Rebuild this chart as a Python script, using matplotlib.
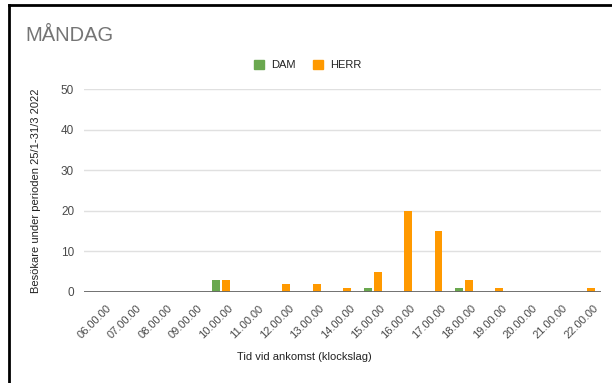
import numpy as np
import matplotlib.pyplot as plt
from matplotlib.lines import Line2D
from matplotlib.patches import Patch
from matplotlib.transforms import ScaledTranslation

plt.rcParams['font.family'] = ['Liberation Sans', 'DejaVu Sans']

# besökare per ankomsttid, måndagar
tider = ['06.00.00', '07.00.00', '08.00.00', '09.00.00', '10.00.00', '11.00.00',
         '12.00.00', '13.00.00', '14.00.00', '15.00.00', '16.00.00', '17.00.00',
         '18.00.00', '19.00.00', '20.00.00', '21.00.00', '22.00.00']
dam = [0, 0, 0, 0, 3, 0, 0, 0, 0, 1, 0, 0, 1, 0, 0, 0, 0]
herr = [0, 0, 0, 0, 3, 0, 2, 2, 1, 5, 20, 15, 3, 1, 0, 0, 1]

GREEN = '#6aa84f'
ORANGE = '#ff9900'

fig = plt.figure(figsize=(6.12, 3.83), dpi=100)
ax = fig.add_axes([0.137, 0.2376, 0.845, 0.53])

x = np.arange(len(tider))
w = 0.26
ax.bar(x - 0.16, dam, width=w, color=GREEN, zorder=3)
ax.bar(x + 0.16, herr, width=w, color=ORANGE, zorder=3)

ax.set_xlim(-0.5, len(tider) - 0.5)
ax.set_ylim(0, 50)
ax.set_yticks([0, 10, 20, 30, 40, 50])
ax.yaxis.grid(True, color='#e0e0e0', linewidth=1, zorder=0)
ax.axhline(0, color='#666666', linewidth=1.3, zorder=4)
for s in ax.spines.values():
    s.set_visible(False)
ax.tick_params(axis='both', length=0, labelcolor='#4a4a4a')
ax.tick_params(axis='y', pad=7, labelsize=8.5)
ax.set_xticks(x)
ax.set_xticklabels(tider, rotation=45, ha='right', va='top',
                   rotation_mode='anchor')
ax.tick_params(axis='x', pad=8, labelsize=8)
# flytta etiketterna lite åt höger
skift = ScaledTranslation(5 / 72, 0, fig.dpi_scale_trans)
for lbl in ax.get_xticklabels():
    lbl.set_transform(lbl.get_transform() + skift)

ax.set_ylabel('Besökare under perioden 25/1-31/3 2022', fontsize=8,
              color='#222222', labelpad=14)
fig.text(0.498, 0.068, 'Tid vid ankomst (klockslag)', fontsize=8,
         color='#222222', ha='center', va='center')

fig.text(0.041, 0.908, 'MÅNDAG', fontsize=14.5, color='#757575',
         ha='left', va='center')

handles = [Patch(color=GREEN, label='DAM'), Patch(color=ORANGE, label='HERR')]
fig.legend(handles=handles, loc='center', bbox_to_anchor=(0.503, 0.83),
           ncol=2, frameon=False, fontsize=8, handlelength=0.9,
           handleheight=0.9, handletextpad=0.6, columnspacing=1.6,
           labelcolor='#222222')

# ram runt diagrammet
fig.add_artist(Line2D([0.0139, 0.0139], [0, 0.986], color='black',
                      linewidth=2, transform=fig.transFigure))
fig.add_artist(Line2D([0.0139, 1.0], [0.986, 0.986], color='black',
                      linewidth=2, transform=fig.transFigure))

fig.savefig('out.png', dpi=100)
